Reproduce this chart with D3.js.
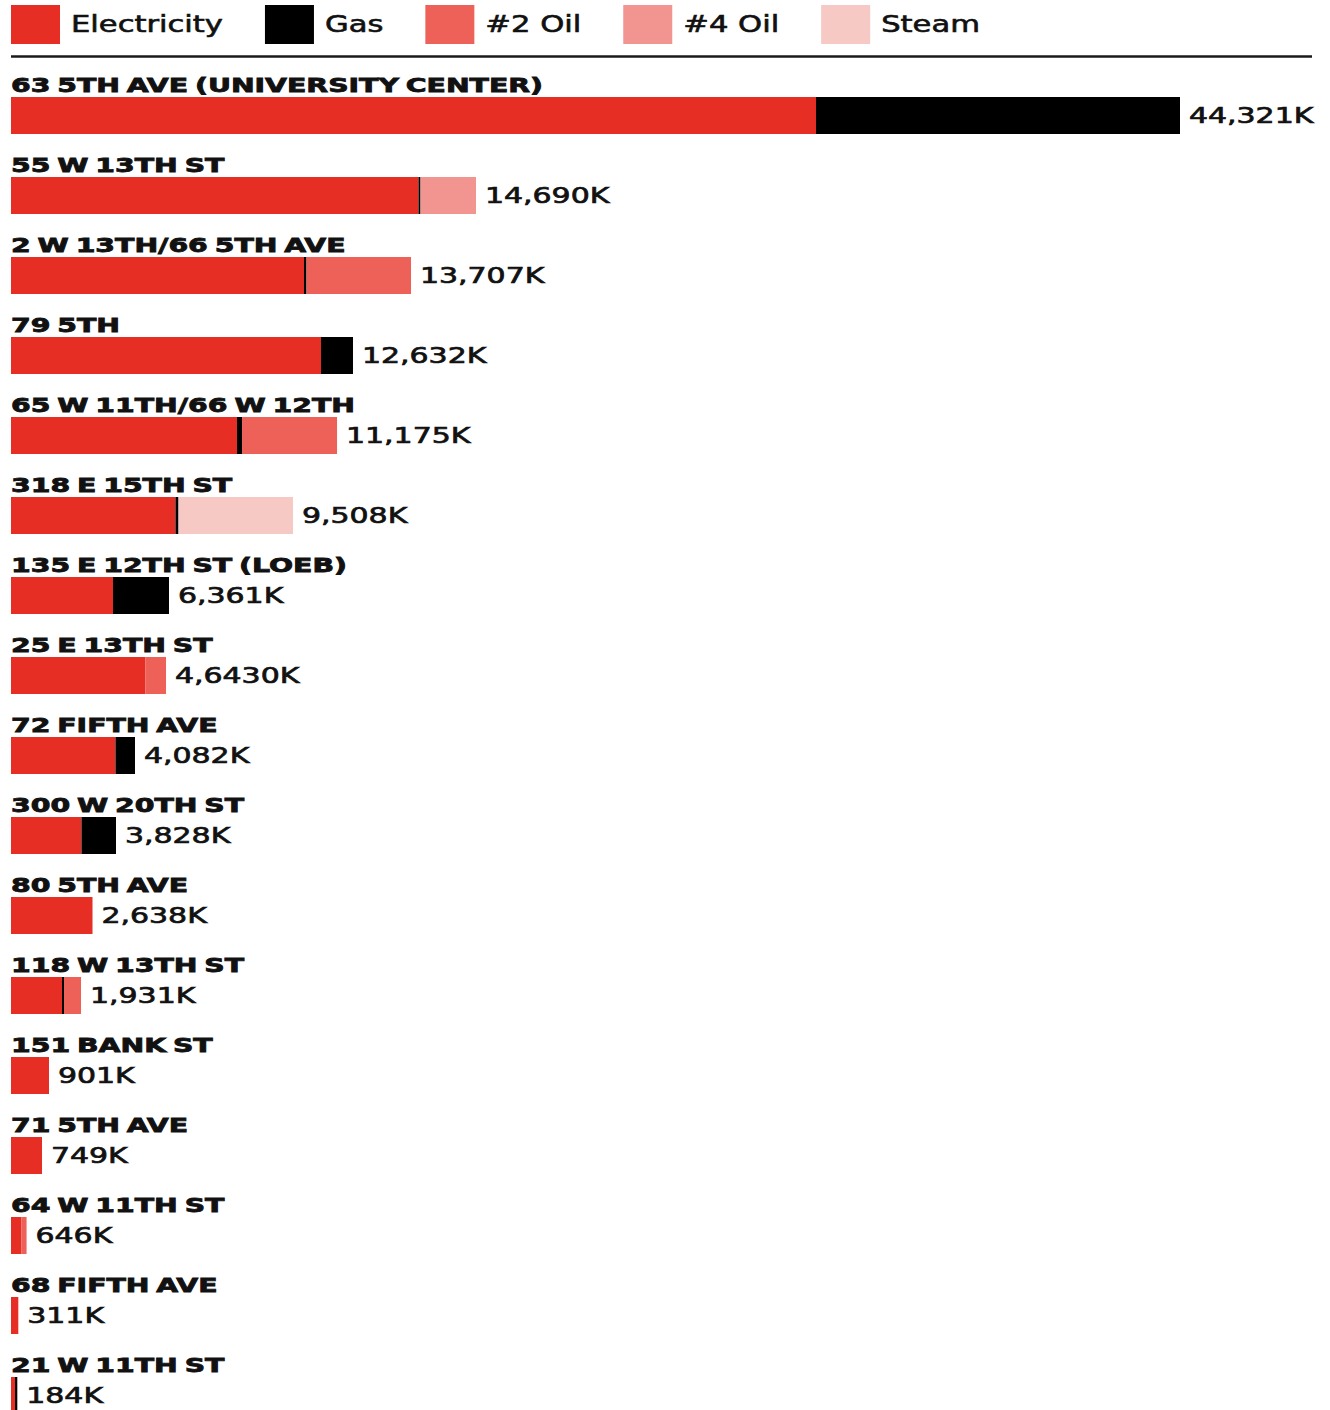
<!DOCTYPE html>
<html>
<head>
<meta charset="utf-8">
<script src="https://cdn.jsdelivr.net/npm/d3@7"></script>
<style>
  html, body { margin: 0; padding: 0; background: #fff; }
  svg { display: block; }
</style>
</head>
<body>
<script>
// ---- data (values in thousands) ----
const buildings = [
  "63 5TH AVE (UNIVERSITY CENTER)", "55 W 13TH ST", "2 W 13TH/66 5TH AVE", "79 5TH",
  "65 W 11TH/66 W 12TH", "318 E 15TH ST", "135 E 12TH ST (LOEB)", "25 E 13TH ST",
  "72 FIFTH AVE", "300 W 20TH ST", "80 5TH AVE", "118 W 13TH ST", "151 BANK ST",
  "71 5TH AVE", "64 W 11TH ST", "68 FIFTH AVE", "21 W 11TH ST"
];
const electricity = [30520, 15450, 11109, 11753, 8569, 6237, 3867, 5100, 3962, 2673, 3090, 1934, 1441, 1175, 400, 277, 152];
const gas         = [13801,    76,    95,  1213,  190,  114, 2123,    0,  739, 1308,    0,   76,    0,    0,   0,   0,  87];
const oil2        = [    0,     0,  3962,     0, 3602,    0,    0,  777,    0,    0,    0,  645,    0,    0, 190,   0,   0];
const oil4        = [    0,  2104,     0,     0,    0,    0,    0,    0,    0,    0,    0,    0,    0,    0,   0,   0,   0];
const steam       = [    0,     0,     0,     0,    0, 4341,    0,    0,    0,    0,    0,    0,    0,    0,   0,   0,   0];
const totalLabels = ["44,321K", "14,690K", "13,707K", "12,632K", "11,175K", "9,508K", "6,361K", "4,6430K",
  "4,082K", "3,828K", "2,638K", "1,931K", "901K", "749K", "646K", "311K", "184K"];
const seriesNames = ["Electricity", "Gas", "#2 Oil", "#4 Oil", "Steam"];
const seriesKeys  = ["electricity", "gas", "oil2", "oil4", "steam"];
const seriesColors = ["#E62E25", "#000000", "#EE6159", "#F29590", "#F7C9C5"];
const maxValue = 44321;

// ---- layout ----
const W = 1330, H = 1410;
const left = 11, right = 1180;
const svg = d3.select("body").append("svg").attr("width", W).attr("height", H);

const rows = buildings.map((b, i) => ({
  building: b, label: totalLabels[i],
  electricity: electricity[i], gas: gas[i], oil2: oil2[i], oil4: oil4[i], steam: steam[i]
}));

const x = d3.scaleLinear().domain([0, maxValue]).range([left, right]);
const y = d3.scaleBand().domain(buildings).range([97, 97 + 80 * buildings.length]).paddingInner(0);
const barH = 37;
const color = d3.scaleOrdinal().domain(seriesKeys).range(seriesColors);

const stacked = d3.stack().keys(seriesKeys)(rows);

function stretch(sel, factor) {
  sel.each(function () {
    const n = this.getComputedTextLength();
    d3.select(this).attr("textLength", n * factor).attr("lengthAdjust", "spacingAndGlyphs");
  });
}

// ---- legend ----
const legend = svg.append("g");
let lx = left;
seriesNames.forEach((name, i) => {
  legend.append("rect").attr("x", lx).attr("y", 5).attr("width", 49).attr("height", 39)
    .attr("fill", seriesColors[i]);
  const t = legend.append("text").attr("x", lx + 60).attr("y", 32)
    .attr("font-family", "DejaVu Sans").attr("font-size", 23)
    .attr("fill", "#111").attr("stroke", "#111").attr("stroke-width", 0.6)
    .text(name);
  stretch(t, 1.33);
  lx = lx + 60 + +t.attr("textLength") + 42;
});

// rule
svg.append("line").attr("x1", left).attr("x2", 1312).attr("y1", 56.5).attr("y2", 56.5)
  .attr("stroke", "#1a1a1a").attr("stroke-width", 2.5);

// ---- bars ----
svg.append("g").selectAll("g").data(stacked).join("g")
  .attr("fill", d => color(d.key))
  .selectAll("rect").data(d => d.filter(s => s[1] > s[0])).join("rect")
  .attr("x", d => x(d[0]))
  .attr("width", d => x(d[1]) - x(d[0]))
  .attr("y", d => y(d.data.building))
  .attr("height", barH);

// ---- building labels ----
const bl = svg.append("g").selectAll("text").data(rows).join("text")
  .attr("x", left)
  .attr("y", d => y(d.building) - 5)
  .attr("font-family", "DejaVu Sans").attr("font-weight", "bold").attr("font-size", 19)
  .attr("word-spacing", -2)
  .attr("fill", "#111").attr("stroke", "#111").attr("stroke-width", 0.8)
  .text(d => d.building);
stretch(bl, 1.49);

// ---- total labels ----
const tl = svg.append("g").selectAll("text").data(rows).join("text")
  .attr("x", d => x(seriesKeys.reduce((s, k) => s + d[k], 0)) + 9)
  .attr("y", d => y(d.building) + 26)
  .attr("font-family", "DejaVu Sans").attr("font-size", 22)
  .attr("fill", "#111").attr("stroke", "#111").attr("stroke-width", 0.7)
  .text(d => d.label);
stretch(tl, 1.36);
</script>
</body>
</html>
